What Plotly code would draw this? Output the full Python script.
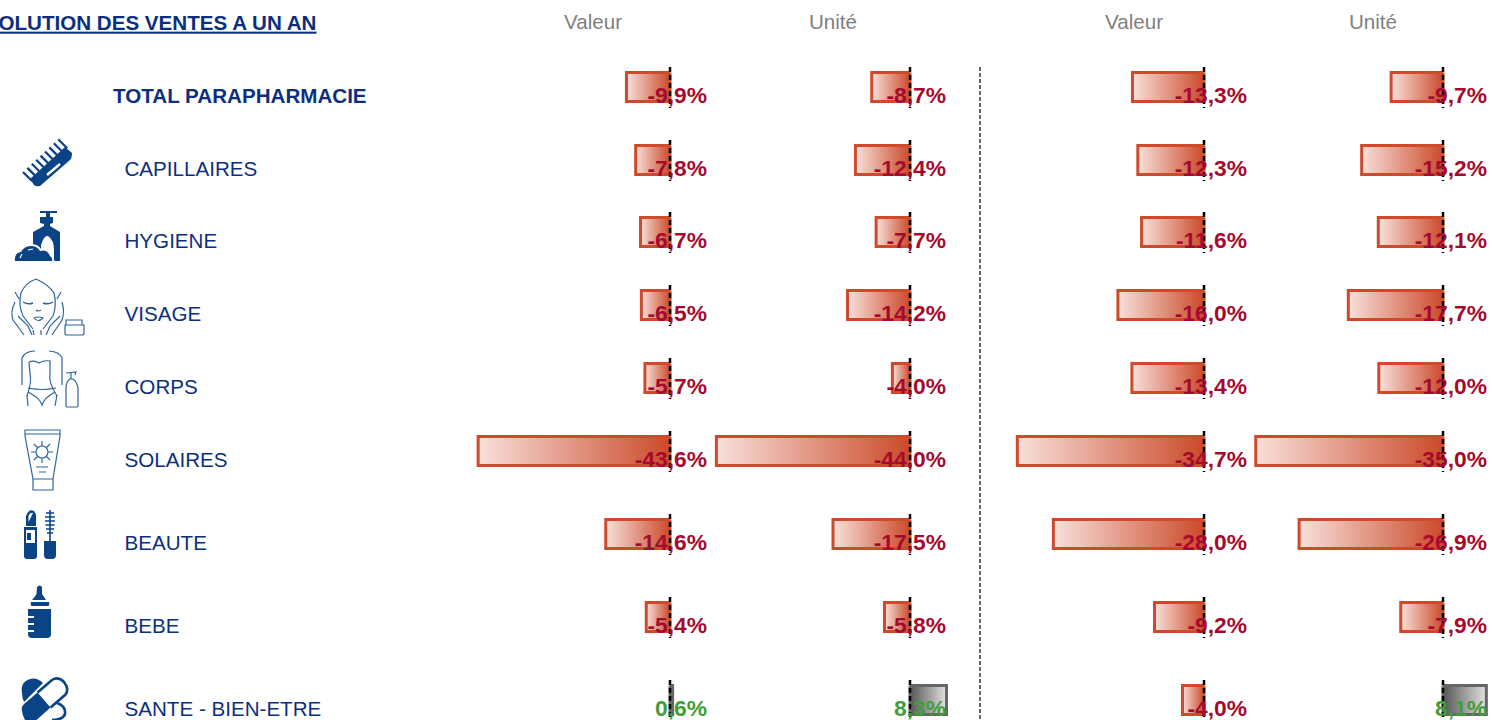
import plotly.graph_objects as go

# ---------- data ----------
categories = ["TOTAL PARAPHARMACIE", "CAPILLAIRES", "HYGIENE", "VISAGE", "CORPS",
              "SOLAIRES", "BEAUTE", "BEBE", "SANTE - BIEN-ETRE"]
valeur_a = [-9.9, -7.8, -6.7, -6.5, -5.7, -43.6, -14.6, -5.4, 0.6]
unite_a = [-8.7, -12.4, -7.7, -14.2, -4.0, -44.0, -17.5, -5.8, 8.3]
valeur_b = [-13.3, -12.3, -11.6, -16.0, -13.4, -34.7, -28.0, -9.2, -4.0]
unite_b = [-9.7, -15.2, -12.1, -17.7, -12.0, -35.0, -26.9, -7.9, 8.1]
headers = ["Valeur", "Unité", "Valeur", "Unité"]
title = "EVOLUTION DES VENTES A UN AN"

# ---------- layout constants (page pixels) ----------
W, H = 1492, 720
row_y = [87, 160, 232, 305, 378, 451, 534, 617, 700]
panels = [  # series, zero px, px per unit, label right edge px, header centre px
    (valeur_a, 670, 4.40, 707, 593),
    (unite_a, 910, 4.40, 946, 833),
    (valeur_b, 1204, 5.38, 1247, 1134),
    (unite_b, 1443, 5.35, 1487, 1373),
]
NAVY = "#0b2f7e"
ICON = "#0a4487"
RED = "#a50a2e"
GREEN = "#3f9e37"
BAR_H = 14.5

fig = go.Figure()


def fmt(v):
    return f"{v:.1f}".replace(".", ",") + "%"


for i, (series, zero, scale, lab_r, head) in enumerate(panels):
    ax = "x" if i == 0 else f"x{i + 1}"
    for v, y in zip(series, row_y):
        neg = v < 0
        fig.add_trace(go.Scatter(
            x=[0, v, v, 0, 0],
            y=[y - BAR_H, y - BAR_H, y + BAR_H, y + BAR_H, y - BAR_H],
            xaxis=ax, yaxis="y", mode="lines", fill="toself",
            line=dict(color="#cf4a2b" if neg else "#666666", width=3),
            fillgradient=dict(
                type="horizontal",
                colorscale=[[0, "#f8e0db"], [1, "#cb4a2a"]] if neg
                else [[0, "#555555"], [1, "#e2e2e2"]],
            ),
            hoverinfo="skip", showlegend=False,
        ))
    # zero line, one dashed segment per row
    xs, ys = [], []
    for y in row_y:
        xs += [0, 0, None]
        ys += [y - 20, y + 21, None]
    fig.add_trace(go.Scatter(x=xs, y=ys, xaxis=ax, yaxis="y", mode="lines",
                             line=dict(color="#000000", width=2.5, dash="5px,3px"),
                             hoverinfo="skip", showlegend=False))
    # value labels
    fig.add_trace(go.Scatter(
        x=[(lab_r - zero) / scale] * len(series), y=[y + 10.5 for y in row_y],
        xaxis=ax, yaxis="y", mode="text", text=[fmt(v) for v in series],
        textposition="middle left", cliponaxis=False,
        textfont=dict(family="Liberation Sans", size=22.8, weight="bold",
                      color=[RED if v < 0 else GREEN for v in series]),
        hoverinfo="skip", showlegend=False,
    ))
    # headers
    fig.add_trace(go.Scatter(
        x=[head], y=[23.5], xaxis="x5", yaxis="y", mode="text", text=[headers[i]],
        textposition="middle center", cliponaxis=False,
        textfont=dict(family="Liberation Sans", size=20.6, color="#7f7f7f"),
        hoverinfo="skip", showlegend=False,
    ))

# separator
fig.add_trace(go.Scatter(x=[980, 980], y=[67, 720], xaxis="x5", yaxis="y", mode="lines",
                         line=dict(color="#666666", width=2, dash="4px,2px"),
                         hoverinfo="skip", showlegend=False))
# category labels
fig.add_trace(go.Scatter(
    x=[113 if i == 0 else 124.5 for i in range(len(categories))],
    y=[y + 10.5 for y in row_y], xaxis="x5", yaxis="y", mode="text",
    text=[f"<b>{c}</b>" if i == 0 else c for i, c in enumerate(categories)],
    textposition="middle right", cliponaxis=False,
    textfont=dict(family="Liberation Sans", size=20.6, color=NAVY),
    hoverinfo="skip", showlegend=False,
))
# title
fig.add_trace(go.Scatter(
    x=[316.5], y=[24.5], xaxis="x5", yaxis="y", mode="text", text=[f"<b><u>{title}</u></b>"],
    textposition="middle left", cliponaxis=False,
    textfont=dict(family="Liberation Sans", size=20.6, color=NAVY),
    hoverinfo="skip", showlegend=False,
))

# ---------- icons (decorative, page pixel coordinates) ----------
shapes = []


def solid(path):
    shapes.append(dict(type="path", path=path, xref="x5", yref="y", layer="above",
                       fillcolor=ICON, line=dict(width=0)))


def white(path):
    shapes.append(dict(type="path", path=path, xref="x5", yref="y", layer="above",
                       fillcolor="#ffffff", line=dict(width=0)))


def stroke(path, w=1.2, color="#2f659f"):
    shapes.append(dict(type="path", path=path, xref="x5", yref="y", layer="above",
                       line=dict(color=color, width=w)))


# comb
solid("M30 179 L65 147 L72 153 Q72 158 70 160 L40 186 Q36 187 34 185 Z")
for k in range(9):
    x0 = 23 + k * 4.4
    y0 = 172 - k * 4.1
    stroke(f"M{x0} {y0} L{x0 + 9} {y0 + 9}", 2.3, ICON)
stroke("M47 175 L60 164", 2.4, "#ffffff")
# pump bottle
solid("M40 211 L57 211 L57 213 L50 213 L50 217 L53 217 L53 223 L50 224 L50 226 L60 232 L60 261 "
      "L33 261 L33 232 L44 226 L44 224 L40 223 L40 217 L46 217 L46 213 L40 213 Z")
white("M41 261 L41 245 Q44 235 48 236 Q54 240 54 250 L54 261 Z")
white("M13 262 Q12 252 19 250 Q24 244 31 244 Q38 244 41 249 Q49 248 52 255 Q55 258 54 262 Z")
solid("M15 261 Q14 253 21 252 Q24 246 31 246 Q37 246 40 251 Q47 249 50 256 Q53 258 52 261 Z")
stroke("M20 258 L22 254 M28 250 L33 249", 1.2, "#ffffff")
# face + jar
stroke("M36 279 Q25 283 21 293 Q18 305 23 316 L33 329 M36 279 Q49 285 54 293 Q57 305 53 316 L43 329")
stroke("M15 292 L19 299 M61 292 L57 299")
stroke("M23 302 Q28 305 33 303 M43 303 Q48 305 53 302", 1.4)
stroke("M36 310 Q38 312 41 310 M34 318 Q38 316 43 318 Q38 323 34 318")
stroke("M33 330 L34 335 M41 330 L41 335")
stroke("M15 302 Q10 312 13 320 L24 335 M18 316 L28 326 L32 335")
stroke("M62 302 Q65 312 62 320 L52 335 M60 316 L50 326 L46 335")
stroke("M65 325 L84 325 L84 333 Q84 335 82 335 L67 335 Q65 335 65 333 Z M66 325 L66 320 L82 320 L82 325")
# body + bottle
stroke("M35 351 Q25 351 22 358 L22 385 M49 351 Q60 352 62 358 L62 385")
stroke("M29 362 Q34 360 39 363 Q44 360 50 361 L50 373 Q48 382 57 396 M29 362 L30 374 Q32 382 27 396")
stroke("M28 388 Q42 391 56 388 M28 392 Q40 398 42 405 Q44 398 55 392 M27 395 L28 406 M57 395 L55 406")
stroke("M66 407 L77 407 Q78 407 78 405 L78 388 Q77 382 73 379 L70 379 Q66 382 66 388 L66 407 "
       "M71 379 L71 373 M66 373 L76 372 L75 375")
# tube
stroke("M25 430 L60 430 L60 436 L53 479 L33 479 L25 436 Z M25 434 L60 434 M33 479 L33 490 L53 490 L53 479")
stroke("M36 467 L48 467 M39 472 L46 472")
stroke("M42 441 L42 463 M31 452 L53 452 M34 444 L50 460 M50 444 L34 460")
shapes.append(dict(type="circle", x0=36, x1=48, y0=446, y1=458, xref="x5", yref="y",
                   layer="above", fillcolor="#ffffff", line=dict(color="#2f659f", width=1.2)))
# lipstick + mascara
solid("M24 527 L37 527 L37 556 Q37 559 34 559 L27 559 Q24 559 24 556 Z")
white("M26 530 L35 530 L35 543 L26 543 Z")
solid("M27 533 L31 533 L31 540 L27 540 Z")
solid("M26 526 L26 516 Q29 508 34 511 Q36 513 36 517 L36 526 Z")
white("M28.5 522 L28.5 516 Q30 512 33 513 L28.5 522 Z")
stroke("M50 510 L50 541", 1.6, ICON)
stroke("M46 513 L54 513 M45 517 L55 517 M45 521 L55 521 M45.5 525 L54.5 525 M46 529 L54 529 M47 533 L53 533",
       1.7, ICON)
solid("M44 541 L56 541 L56 555 Q56 559 52 559 L48 559 Q44 559 44 555 Z")
# baby bottle
solid("M37 587 Q40 584 42 587 L42 594 Q44 597 46 600 L32 600 Q35 597 36.5 594 Z")
solid("M31 602 L49 602 Q50 605 48 606 L32 606 Q30 605 31 602 Z")
solid("M28 609 L51 609 L51 634 Q51 638 47 638 L32 638 Q28 638 28 634 L28 632 L34 632 L34 630 L28 630 "
      "L28 625 L34 625 L34 623 L28 623 L28 618 L34 618 L34 616 L28 616 Z")
# pill + plaster
solid("M22 693 Q20 682 30 679 Q37 677 43 683 L24 702 Q22 698 22 693 Z")
solid("M37.5 692.4 L50.5 707.6 L36.5 720 L25 720 Q19 708 24 704 Z")
stroke("M37.5 692.4 L52 680 Q58 676 64 682 Q70 690 65 695 L50.5 707.6", 2.6, ICON)
stroke("M57 703 Q66 706 65 714 Q63 720 52 720", 2.6, ICON)

# ---------- axes ----------
hidden = dict(visible=False, showgrid=False, zeroline=False, fixedrange=True)
layout_axes = {}
for i, (_, zero, scale, _, _) in enumerate(panels):
    name = "xaxis" if i == 0 else f"xaxis{i + 1}"
    layout_axes[name] = dict(hidden, domain=[0, 1], anchor="y",
                             range=[-zero / scale, (W - zero) / scale],
                             **({} if i == 0 else {"overlaying": "x"}))
layout_axes["xaxis5"] = dict(hidden, domain=[0, 1], anchor="y", range=[0, W], overlaying="x")

fig.update_layout(
    width=W, height=H, margin=dict(l=0, r=0, t=0, b=0, pad=0),
    paper_bgcolor="#ffffff", plot_bgcolor="#ffffff", showlegend=False,
    yaxis=dict(hidden, range=[H, 0], domain=[0, 1]),
    shapes=shapes, hovermode=False, **layout_axes,
)
fig.write_html("out.html", config=dict(displayModeBar=False),
               post_script="document.body.style.margin='0';document.body.style.overflow='hidden';")
